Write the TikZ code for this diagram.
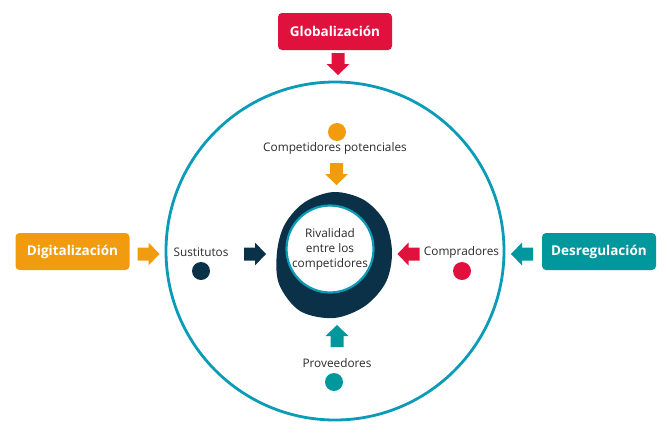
\documentclass[tikz,border=0pt]{standalone}
\usepackage{fontspec}
\setmainfont{Open Sans}
\definecolor{ring}{HTML}{0A9BB6}
\definecolor{navy}{HTML}{0B3148}
\definecolor{cred}{HTML}{E0123D}
\definecolor{corange}{HTML}{F19C0F}
\definecolor{cteal}{HTML}{00989C}
\definecolor{txt}{HTML}{2B2B2B}
\tikzset{
  x=1pt,y=-1pt,
  forcebox/.style={rounded corners=4pt, minimum width=114pt, minimum height=37pt, inner sep=0pt,
    text=white, font=\fontsize{13.5}{16}\selectfont\bfseries},
  lbl/.style={text=txt, font=\fontsize{11.8}{14}\selectfont, inner sep=0pt},
  dot/.style={circle, minimum size=18pt, inner sep=0pt},
  barrow/.pic={\fill[pic actions] (-11,-6.5) -- (0,-6.5) -- (0,-11.5) -- (11,0) -- (0,11.5) -- (0,6.5) -- (-11,6.5) -- cycle;}
}
\begin{document}
\begin{tikzpicture}
\useasboundingbox (0,0) rectangle (667,442);
% big ring
\node[circle, draw=ring, line width=2.8pt, minimum size=338pt, inner sep=0pt] (ring) at (335,251) {};
% central blob
\fill[navy] plot[smooth cycle, tension=0.55] coordinates {(392,252) (386,282) (365,306) (334,318) (300,311) (279,284) (277,252) (285,224) (305,202) (334,192) (364,200) (385,222)};
\node[circle, fill=white, draw=ring, line width=2.2pt, minimum size=87pt, inner sep=0pt] (core) at (330,249) {};
\node[lbl, align=center, font=\fontsize{11.8}{15}\selectfont] (coretxt) at (330,249) {Rivalidad\\entre los\\competidores};
% outer forces
\node[forcebox, fill=cred] (glob) at (335,31.5) {Globalización};
\node[forcebox, fill=corange] (digi) at (72.5,251.5) {Digitalización};
\node[forcebox, fill=cteal] (desr) at (599,251.5) {Desregulación};
\pic[fill=cred, rotate=-90] at (338,64) {barrow};
\pic[fill=corange] at (148.5,254) {barrow};
\pic[fill=cteal, rotate=180] at (522,254) {barrow};
% inner forces
\node[dot, fill=corange] (d1) at (337,132) {};
\node[lbl] (t1) at (335,148) {Competidores potenciales};
\pic[fill=corange, rotate=-90] at (336.5,174) {barrow};

\node[lbl] (t2) at (201,252) {Sustitutos};
\node[dot, fill=navy] (d2) at (201,271) {};
\pic[fill=navy] at (255,254) {barrow};

\node[lbl] (t3) at (461.5,252) {Compradores};
\node[dot, fill=cred] (d3) at (462,271) {};
\pic[fill=cred, rotate=180] at (408.5,254) {barrow};

\pic[fill=cteal, rotate=90] at (337,336) {barrow};
\node[lbl] (t4) at (337,363) {Proveedores};
\node[dot, fill=cteal] (d4) at (334,382) {};
\end{tikzpicture}
\end{document}
